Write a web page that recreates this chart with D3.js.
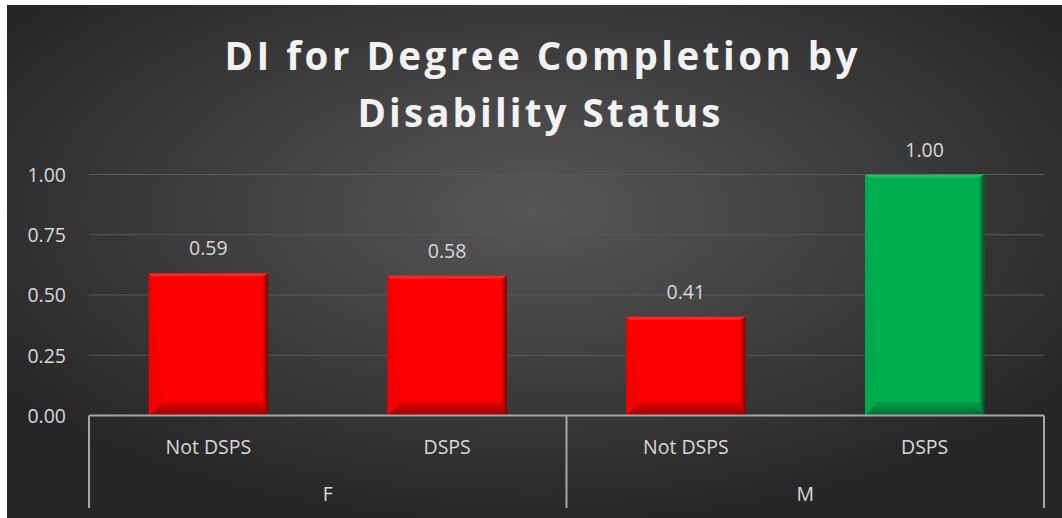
<!DOCTYPE html>
<html lang="en">
<head>
  <meta charset="UTF-8">
  <title>DI for Degree Completion by Disability Status</title>
  <style>
    body { margin: 0; background: #fff; }
    svg text { font-family: "Open Sans", "Liberation Sans", sans-serif; }
  </style>
  <script src="https://d3js.org/d3.v7.min.js"></script>
</head>
<body>
  <div id="chart"></div>
  <script>
    // data
    const groups = ["F", "M"];
    const statuses = ["Not DSPS", "DSPS", "Not DSPS", "DSPS"];
    const values = [0.59, 0.58, 0.41, 1.00];
    const barColors = ["#ff0000", "#ff0000", "#ff0000", "#00b050"];
    const yTicks = [0, 0.25, 0.5, 0.75, 1.0];
    const titleLines = ["DI for Degree Completion by", "Disability Status"];

    const W = 1062, H = 518;
    const box = {x: 7, y: 5, w: W - 7, h: H - 5};
    const plot = {left: 89, right: 1044, top: 174.5, bottom: 415.5};
    const labelColor = "#d9d9d9";
    const fs = 19.5;

    const svg = d3.select("#chart").append("svg")
      .attr("width", W).attr("height", H);

    const defs = svg.append("defs");
    const bg = defs.append("radialGradient").attr("id", "bg")
      .attr("cx", "50%").attr("cy", "40%").attr("r", "62%");
    bg.append("stop").attr("offset", "0%").attr("stop-color", "#575757");
    bg.append("stop").attr("offset", "100%").attr("stop-color", "#262626");

    const bottomShade = defs.append("linearGradient").attr("id", "botShade")
      .attr("x1", 0).attr("y1", 0).attr("x2", 0).attr("y2", 1);
    bottomShade.append("stop").attr("offset", "0%").attr("stop-color", "#000").attr("stop-opacity", 0.08);
    bottomShade.append("stop").attr("offset", "100%").attr("stop-color", "#000").attr("stop-opacity", 0.4);

    const rightShade = defs.append("linearGradient").attr("id", "rightShade")
      .attr("x1", 0).attr("y1", 0).attr("x2", 1).attr("y2", 0);
    rightShade.append("stop").attr("offset", "0%").attr("stop-color", "#000").attr("stop-opacity", 0.1);
    rightShade.append("stop").attr("offset", "100%").attr("stop-color", "#000").attr("stop-opacity", 0.55);

    svg.append("rect")
      .attr("x", box.x).attr("y", box.y)
      .attr("width", box.w).attr("height", box.h)
      .attr("fill", "url(#bg)");

    // title
    const title = svg.append("g")
      .attr("font-size", 38.5).attr("font-weight", "bold")
      .attr("fill", "#f2f2f2").attr("text-anchor", "middle");
    title.append("text")
      .attr("x", 541).attr("y", 70)
      .attr("textLength", 633).attr("lengthAdjust", "spacing")
      .text(titleLines[0]);
    title.append("text")
      .attr("x", 539).attr("y", 127)
      .attr("textLength", 363).attr("lengthAdjust", "spacing")
      .text(titleLines[1]);

    // scales
    const x = d3.scaleBand()
      .domain(d3.range(values.length))
      .range([plot.left, plot.right])
      .paddingInner(0.5).paddingOuter(0.25);

    const y = d3.scaleLinear()
      .domain([0, 1])
      .range([plot.bottom, plot.top]);

    // gridlines
    svg.append("g").selectAll("line")
      .data(yTicks.filter(d => d > 0))
      .join("line")
      .attr("x1", plot.left).attr("x2", plot.right)
      .attr("y1", d => y(d)).attr("y2", d => y(d))
      .attr("stroke", "#5a5a5a").attr("stroke-width", 1);

    // y axis labels
    const yAxis = d3.axisLeft(y).tickValues(yTicks).tickFormat(d3.format(".2f")).tickSize(0).tickPadding(23);
    const yG = svg.append("g").attr("transform", `translate(${plot.left},0)`).call(yAxis);
    yG.select(".domain").remove();
    yG.selectAll("text")
      .attr("fill", labelColor).attr("font-size", fs)
      .attr("font-family", "'Open Sans', sans-serif")
      .attr("dy", "0.35em");

    // bars with a bevel look
    const bev = 14;
    const bars = svg.append("g").selectAll("g")
      .data(values.map((v, i) => ({v, i})))
      .join("g");

    bars.append("rect")
      .attr("x", d => x(d.i)).attr("y", d => y(d.v))
      .attr("width", x.bandwidth()).attr("height", d => y(0) - y(d.v))
      .attr("fill", d => barColors[d.i]);

    function facet(d, side) {
      const x0 = x(d.i), x1 = x0 + x.bandwidth(), y0 = y(d.v), y1 = y(0);
      const b = Math.min(bev, (x1 - x0) / 2, (y1 - y0) / 2);
      const t = 3, s = 5;
      if (side === "top") return [[x0, y0], [x1, y0], [x1 - s, y0 + t], [x0 + t, y0 + t]];
      if (side === "right") return [[x1, y0], [x1, y1], [x1 - s, y1 - b], [x1 - s, y0 + t]];
      if (side === "bottom") return [[x0, y1], [x1, y1], [x1 - s, y1 - b], [x0 + b, y1 - b]];
      return [[x0, y0], [x0, y1], [x0 + b, y1 - b], [x0 + t, y0 + t]];
    }
    const shade = {
      top: ["#ffffff", 0.15],
      left: ["#000000", 0.04],
      right: ["url(#rightShade)", 1],
      bottom: ["url(#botShade)", 1]
    };
    ["top", "left", "right", "bottom"].forEach(side => {
      bars.append("polygon")
        .attr("points", d => facet(d, side).map(p => p.join(",")).join(" "))
        .attr("fill", shade[side][0]).attr("fill-opacity", shade[side][1]);
    });

    // data labels
    bars.append("text")
      .attr("x", d => x(d.i) + x.bandwidth() / 2)
      .attr("y", d => y(d.v) - 18)
      .attr("text-anchor", "middle")
      .attr("font-size", fs).attr("fill", labelColor)
      .text(d => d3.format(".2f")(d.v));

    // category axis (two levels)
    const axisBottom = 508;
    const step = x.step();
    const ax = svg.append("g").attr("stroke", "#a6a6a6").attr("stroke-width", 2);
    ax.append("line")
      .attr("x1", plot.left).attr("x2", plot.right)
      .attr("y1", plot.bottom).attr("y2", plot.bottom);
    const groupEdges = [plot.left].concat(groups.map((g, gi) => plot.left + step * 2 * (gi + 1)));
    ax.selectAll("line.sep")
      .data(groupEdges)
      .join("line").attr("class", "sep")
      .attr("x1", d => d).attr("x2", d => d)
      .attr("y1", plot.bottom).attr("y2", axisBottom);

    svg.append("g").selectAll("text")
      .data(statuses)
      .join("text")
      .attr("x", (d, i) => x(i) + x.bandwidth() / 2)
      .attr("y", 454)
      .attr("text-anchor", "middle")
      .attr("font-size", fs).attr("fill", labelColor)
      .text(d => d);

    svg.append("g").selectAll("text")
      .data(groups)
      .join("text")
      .attr("x", (d, gi) => (groupEdges[gi] + groupEdges[gi + 1]) / 2)
      .attr("y", 501)
      .attr("text-anchor", "middle")
      .attr("font-size", fs).attr("fill", labelColor)
      .text(d => d);
  </script>
</body>
</html>
